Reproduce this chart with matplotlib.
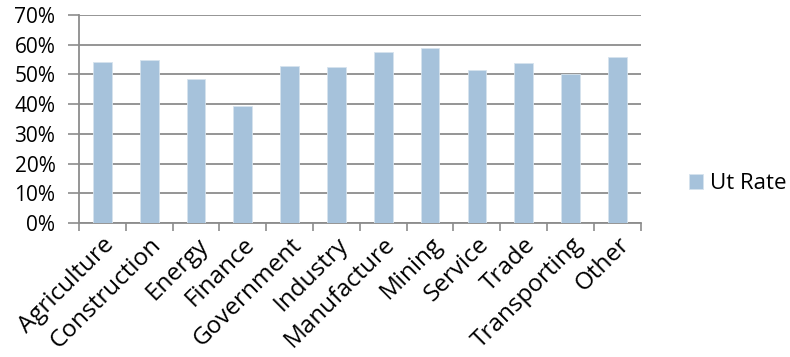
import numpy as np
import matplotlib
matplotlib.use('Agg')
import matplotlib.pyplot as plt
from matplotlib.ticker import FixedLocator, PercentFormatter

plt.rcParams['font.family'] = ['Open Sans', 'DejaVu Sans']

categories = ['Agriculture', 'Construction', 'Energy', 'Finance', 'Government',
              'Industry', 'Manufacture', 'Mining', 'Service', 'Trade',
              'Transporting', 'Other']
ut_rate = [54.3, 54.9, 48.4, 39.3, 52.9, 52.5, 57.6, 58.9, 51.4, 53.8, 50.1, 56.0]

grid_col = '#8c8c8c'
bar_col = '#a6c2db'

fig = plt.figure(figsize=(7.9, 3.57), dpi=100)
ax = fig.add_axes([0.1, 0.375, 0.711, 0.583])

x = np.arange(len(categories))
ax.bar(x, ut_rate, width=0.4, color=bar_col, edgecolor='#d6e3ee', linewidth=0.6,
       label='Ut Rate', zorder=3)

ax.set_xlim(-0.5, len(categories) - 0.5)
ax.set_ylim(0, 70)
ax.set_yticks(np.arange(0, 71, 10))
ax.yaxis.set_major_formatter(PercentFormatter(decimals=0))
ax.grid(axis='y', color=grid_col, linewidth=1.3, zorder=0)

ax.set_xticks(x)
ax.set_xticklabels(categories, rotation=45, ha='right', rotation_mode='anchor')
ax.xaxis.set_minor_locator(FixedLocator(np.arange(-0.5, len(categories), 1)))
ax.tick_params(axis='x', which='major', length=0, pad=7, labelsize=17.5)
ax.tick_params(axis='x', which='minor', length=6, width=1.2, color=grid_col)
ax.tick_params(axis='y', length=8, width=1.2, color=grid_col, labelsize=15, pad=9)

for s in ['top', 'right']:
    ax.spines[s].set_visible(False)
for s in ['left', 'bottom']:
    ax.spines[s].set_color(grid_col)
    ax.spines[s].set_linewidth(1.3)

ax.legend(loc='center left', bbox_to_anchor=(1.05, 0.19), frameon=False,
          fontsize=16, handlelength=0.65, handleheight=0.65, handletextpad=0.3)

fig.savefig('out.png', dpi=100)
